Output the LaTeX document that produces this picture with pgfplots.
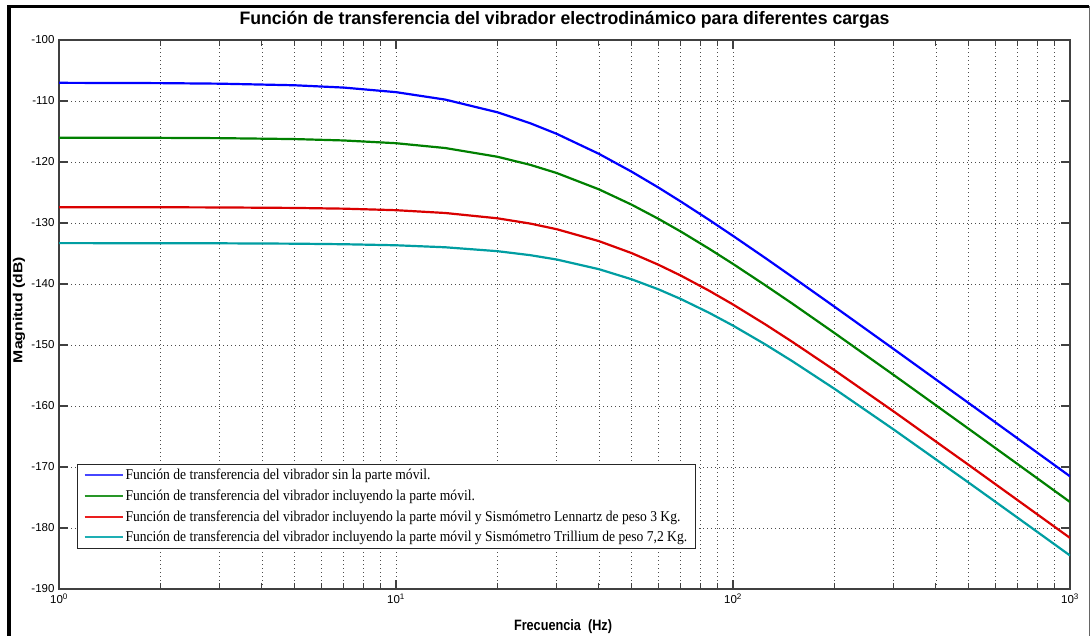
\documentclass[border=0pt]{standalone}
\usepackage{fontspec}
\setmainfont{Liberation Sans}
\newfontfamily\legfont{Liberation Serif}
\usepackage{graphicx}
\usepackage{pgfplots}
\usepackage{pgfplotstable}
\pgfplotsset{compat=1.18}
\definecolor{mblue}{RGB}{0,0,255}
\definecolor{mgreen}{RGB}{0,128,0}
\definecolor{mred}{RGB}{218,0,0}
\definecolor{mcyan}{RGB}{0,158,162}
\definecolor{lblue}{RGB}{70,70,255}
\definecolor{lgreen}{RGB}{40,150,40}
\definecolor{lred}{RGB}{235,30,30}
\definecolor{lcyan}{RGB}{30,175,180}
\pgfplotstableread{
f blue green red cyan
1 -107.02 -116.01 -127.41 -133.30
2 -107.07 -116.04 -127.42 -133.31
3 -107.16 -116.09 -127.45 -133.33
5 -107.42 -116.24 -127.53 -133.39
7 -107.80 -116.47 -127.65 -133.48
10 -108.55 -116.92 -127.90 -133.65
14 -109.77 -117.71 -128.36 -133.98
20 -111.85 -119.14 -129.23 -134.62
25 -113.64 -120.46 -130.09 -135.27
30 -115.39 -121.81 -131.02 -135.99
40 -118.66 -124.48 -132.97 -137.57
50 -121.58 -126.99 -134.93 -139.22
60 -124.17 -129.30 -136.83 -140.86
70 -126.48 -131.40 -138.62 -142.46
85 -129.50 -134.23 -141.11 -144.73
100 -132.11 -136.71 -143.36 -146.82
125 -135.78 -140.25 -146.66 -149.94
150 -138.84 -143.22 -149.49 -152.66
200 -143.72 -148.03 -154.13 -157.18
300 -150.68 -154.93 -160.91 -163.87
500 -159.51 -163.73 -169.65 -172.55
700 -165.34 -169.55 -175.46 -178.34
1000 -171.53 -175.74 -181.63 -184.51
}\data
\newcommand{\leg}[1]{\scalebox{0.905}[1]{#1}}
\begin{document}
\begin{tikzpicture}
\path[use as bounding box] (0,0) rectangle (1092pt,636pt);
\fill[white] (0,0) rectangle (1092pt,636pt);
\begin{axis}[
  at={(59pt,47pt)}, anchor=south west,
  width=1011pt, height=549pt, scale only axis,
  xmode=log, xmin=1, xmax=1000, ymin=-190, ymax=-100,
  xtick={1,10,100,1000},
  xticklabels={10\textsuperscript{0},10\textsuperscript{1},10\textsuperscript{2},10\textsuperscript{3}},
  minor xtick={2,3,4,5,6,7,8,9,20,30,40,50,60,70,80,90,200,300,400,500,600,700,800,900},
  ytick={-190,-180,-170,-160,-150,-140,-130,-120,-110,-100},
  yticklabels={-190,-180,-170,-160,-150,-140,-130,-120,-110,-100},
  grid=both,
  major grid style={dash pattern=on 1.2pt off 2.8pt, black!70, line width=0.7pt},
  minor grid style={dash pattern=on 1.2pt off 2.8pt, black!70, line width=0.7pt},
  tick align=inside,
  major tick length=9pt, minor tick length=6pt,
  axis line style={black!75, line width=1.1pt},
  every tick/.style={black!75, line width=1.1pt},
  ticklabel style={font=\fontsize{11.5}{13}\selectfont, text=black},
  xticklabel style={yshift=-1pt},
  yticklabel style={xshift=-1pt},
  title={\resizebox{650pt}{\height}{\bfseries\fontsize{18}{20}\selectfont Función de transferencia del vibrador electrodinámico para diferentes cargas}},
  title style={at={(0.5,1.0182)}, anchor=base, inner sep=0pt},
  xlabel={\resizebox{98pt}{\height}{\bfseries\fontsize{15}{17}\selectfont Frecuencia\ \ (Hz)}},
  xlabel style={at={(0.4985,-0.0765)}, anchor=base, inner sep=0pt},
  ylabel={\resizebox{106pt}{\height}{\bfseries\fontsize{13}{15}\selectfont Magnitud (dB)}},
  ylabel style={at={(-0.0396,0.508)}, anchor=center, inner sep=0pt, rotate=0},
  legend style={at={(0.0178,0.0729)}, anchor=south west, draw=black!85, line width=1pt,
    font=\legfont\fontsize{15}{17}\selectfont, inner xsep=6pt, inner ysep=3pt,
    row sep=4.6pt, cells={anchor=west}},
  legend image code/.code={\draw[#1] (0pt,0pt) -- (38pt,0pt);},
]
\addlegendimage{lblue, line width=2pt}
\addlegendentry{\leg{Función de transferencia del vibrador sin la parte móvil.}}
\addlegendimage{lgreen, line width=2pt}
\addlegendentry{\leg{Función de transferencia del vibrador incluyendo la parte móvil.}}
\addlegendimage{lred, line width=2pt}
\addlegendentry{\leg{Función de transferencia del vibrador incluyendo la parte móvil y Sismómetro Lennartz de peso 3 Kg.}}
\addlegendimage{lcyan, line width=2pt}
\addlegendentry{\leg{Función de transferencia del vibrador incluyendo la parte móvil y Sismómetro Trillium de peso 7,2 Kg.}}
\addplot[mblue, line width=2.2pt, forget plot] table[x=f,y=blue]{\data};
\addplot[mgreen, line width=2.2pt, forget plot] table[x=f,y=green]{\data};
\addplot[mred, line width=2.2pt, forget plot] table[x=f,y=red]{\data};
\addplot[mcyan, line width=2.2pt, forget plot] table[x=f,y=cyan]{\data};
\end{axis}
\draw[black, line width=3.5pt] (9pt,0) -- (9pt,629.5pt) -- (1089pt,629.5pt);
\draw[black!60, line width=1pt] (1089.5pt,629.5pt) -- (1089.5pt,0);
\end{tikzpicture}
\end{document}
